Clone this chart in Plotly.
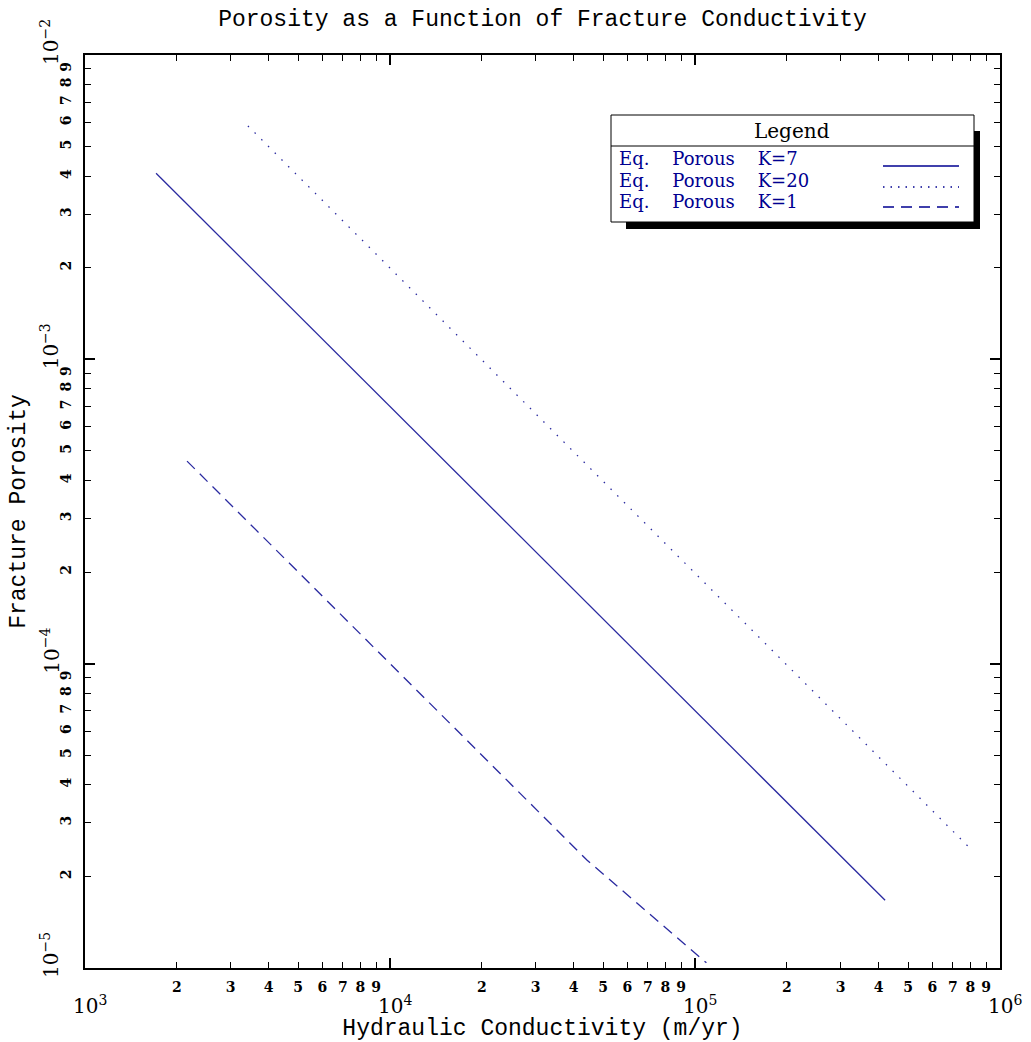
import math
import plotly.graph_objects as go

# ---- data ----
k7_x = [1710, 420000]
k7_y = [4.09e-3, 1.67e-5]
k20_x = [3420, 815000]
k20_y = [5.85e-3, 2.42e-5]
k1_x = [2160, 44300, 109000]
k1_y = [4.63e-4, 2.26e-5, 1.04e-5]

x_major = [1e3, 1e4, 1e5, 1e6]
x_major_txt = ["10<sup>3</sup>", "10<sup>4</sup>", "10<sup>5</sup>", "10<sup>6</sup>"]
y_major = [1e-5, 1e-4, 1e-3, 1e-2]
y_major_txt = ["10<sup>−5</sup>", "10<sup>−4</sup>", "10<sup>−3</sup>", "10<sup>−2</sup>"]
minor_digits = [2, 3, 4, 5, 6, 7, 8, 9]
x_minor = [d * 10 ** e for e in (3, 4, 5) for d in minor_digits]
y_minor = [d * 10.0 ** e for e in (-5, -4, -3) for d in minor_digits]
minor_txt = [str(d) for e in range(3) for d in minor_digits]

S = "\u00a0\u00a0\u00a0 "
series_names = ["Eq." + S + "Porous" + S + "K=7", "Eq." + S + "Porous" + S + "K=20", "Eq." + S + "Porous" + S + "K=1"]

LINE = "#2a2aa0"
TXT = "#000090"
SERIF = "DejaVu Serif"
MONO = "Liberation Mono"

# plot-area geometry (pixels)
L, T, W, H = 85, 55, 915, 913
FW, FH = 1031, 1042


def px(X):
    return (X - L) / W


def py(Y):
    return (T + H - Y) / H


fig = go.Figure()
fig.add_trace(go.Scatter(x=k7_x, y=k7_y, mode="lines", line=dict(color=LINE, width=1.3), name=series_names[0]))
fig.add_trace(go.Scatter(x=k20_x, y=k20_y, mode="lines", line=dict(color=LINE, width=1.3, dash="1.5px,8px"), name=series_names[1]))
fig.add_trace(go.Scatter(x=k1_x, y=k1_y, mode="lines", line=dict(color=LINE, width=1.3, dash="11px,7px"), name=series_names[2]))

axis_common = dict(
    type="log", showgrid=False, zeroline=False, showline=True, linecolor="black", linewidth=1.5,
    mirror="allticks", ticks="inside", ticklen=6, tickcolor="black", tickwidth=1,
    tickfont=dict(family=SERIF, size=14, color="black", weight="bold"),
)

xa = dict(axis_common)
xa.update(range=[3, 6], tickvals=x_minor, ticktext=minor_txt, ticklabelstandoff=5,
          minor=dict(tickvals=x_major, ticklen=10, ticks="inside", tickcolor="black", tickwidth=1.5),
          title=dict(text="Hydraulic Conductivity (m/yr)", font=dict(family=MONO, size=23, color="black"), standoff=40))
ya = dict(axis_common)
ya.update(range=[-5, -2], tickvals=y_minor, ticktext=minor_txt, tickangle=-90, ticklabelstandoff=7,
          minor=dict(tickvals=y_major, ticklen=10, ticks="inside", tickcolor="black", tickwidth=1.5),
          title=dict(text="Fracture Porosity", font=dict(family=MONO, size=23, color="black"), standoff=26))

annotations = []
for v, t in zip(x_major, x_major_txt):
    annotations.append(dict(x=math.log10(v), y=0, xref="x", yref="paper", text=t, showarrow=False,
                            xanchor="center", yanchor="middle",
                            xshift=5, yshift=-37, font=dict(family=SERIF, size=20, color="black")))
for v, t in zip(y_major, y_major_txt):
    annotations.append(dict(x=0, y=math.log10(v), xref="paper", yref="y", text=t, showarrow=False,
                            xanchor="center", yanchor="middle",
                            xshift=-35, yshift=13, textangle=-90, font=dict(family=SERIF, size=20, color="black")))

# legend box (drawn by hand like the reference)
shapes = [
    dict(type="rect", xref="paper", yref="paper", x0=px(626), x1=px(980), y0=py(229), y1=py(131),
         fillcolor="black", line=dict(width=0), layer="above"),
    dict(type="rect", xref="paper", yref="paper", x0=px(611), x1=px(974), y0=py(222), y1=py(115),
         fillcolor="white", line=dict(color="black", width=1), layer="above"),
    dict(type="line", xref="paper", yref="paper", x0=px(611), x1=px(974), y0=py(146), y1=py(146),
         line=dict(color="black", width=1), layer="above"),
]
annotations.append(dict(x=px(792), y=py(131), xref="paper", yref="paper", text="Legend", showarrow=False,
                        xanchor="center", yanchor="middle", borderpad=0,
                        font=dict(family=SERIF, size=20, color="black")))
entry_y = [159, 180, 201]
sample_y = [166, 187, 207]
dashes = ["solid", "1.5px,6px", "11px,7px"]
for name, ty, sy, d in zip(series_names, entry_y, sample_y, dashes):
    annotations.append(dict(x=px(618), y=py(ty), xref="paper", yref="paper", text=name, showarrow=False,
                            xanchor="left", yanchor="middle", borderpad=0,
                            font=dict(family=SERIF, size=18, color=TXT)))
    shapes.append(dict(type="line", xref="paper", yref="paper", x0=px(883), x1=px(959), y0=py(sy), y1=py(sy),
                       line=dict(color=TXT, width=1.3, dash=d), layer="above"))

fig.update_layout(
    width=FW, height=FH,
    margin=dict(l=L, r=FW - L - W, t=T, b=FH - T - H, autoexpand=False),
    paper_bgcolor="white", plot_bgcolor="white",
    showlegend=False,
    xaxis=xa, yaxis=ya,
    title=dict(text="Porosity as a Function of Fracture Conductivity",
               x=0.5, xref="paper", y=1 - 18 / FH, yref="container", yanchor="middle", xanchor="center",
               font=dict(family=MONO, size=23, color="black")),
    annotations=annotations, shapes=shapes,
)

fig.write_html("out.html")
